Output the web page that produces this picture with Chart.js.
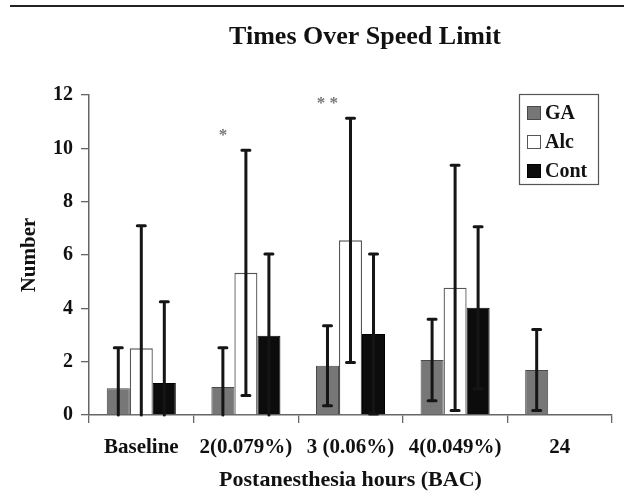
<!DOCTYPE html>
<html>
<head>
<meta charset="utf-8">
<script src="https://cdn.jsdelivr.net/npm/chart.js@4.4.1/dist/chart.umd.min.js"></script>
<style>
  html, body { margin: 0; padding: 0; background: #fff; }
  #wrap { position: relative; width: 624px; height: 497px; }
  #rule { position: absolute; left: 10px; top: 5px; width: 614px; height: 2px; background: #222; }
  canvas { position: absolute; left: 0; top: 0; }
</style>
</head>
<body>
<div id="wrap">
  <canvas id="c" width="624" height="497"></canvas>
  <div id="rule"></div>
</div>
<script>
// ---- data ----
const chartTitle = 'Times Over Speed Limit';
const categories = ['Baseline', '2(0.079%)', '3 (0.06%)', '4(0.049%)', '24'];
const seriesNames = ['GA', 'Alc', 'Cont'];
const gaMean   = [1.0, 1.05, 1.85, 2.06, 1.69];
const gaSD     = [1.52, 1.47, 1.50, 1.53, 1.52];
const alcMean  = [2.5, 5.33, 6.55, 4.77, null];
const alcSD    = [4.6, 4.6, 4.58, 4.6, null];
const contMean = [1.2, 2.97, 3.04, 4.02, null];
const contSD   = [3.05, 3.07, 3.0, 3.04, null];
const sigMarks = ['', '*', '**', '', ''];
const yTicks   = [0, 2, 4, 6, 8, 10, 12];

const FONT = "'Liberation Serif', 'Times New Roman', serif";

const titleText = {
  id: 'titleText',
  afterDraw(chart) {
    const ctx = chart.ctx;
    ctx.save();
    ctx.fillStyle = '#111';
    ctx.font = 'bold 26px ' + FONT;
    ctx.textAlign = 'center';
    ctx.textBaseline = 'alphabetic';
    ctx.fillText(chartTitle, 365, 44);
    ctx.restore();
  }
};

const errorBars = {
  id: 'errorBars',
  afterDatasetsDraw(chart) {
    const ctx = chart.ctx;
    const y = chart.scales.y;
    const sds = [gaSD, alcSD, contSD];
    ctx.save();
    ctx.strokeStyle = '#151515';
    ctx.lineWidth = 3;
    ctx.lineCap = 'round';
    chart.data.datasets.forEach((ds, di) => {
      const meta = chart.getDatasetMeta(di);
      meta.data.forEach((bar, i) => {
        const m = ds.data[i];
        const sd = sds[di][i];
        if (m == null || sd == null) return;
        const x = bar.x;
        const hi = m + sd;
        const lo = Math.max(0, m - sd);
        const yHi = y.getPixelForValue(hi);
        const yLo = y.getPixelForValue(lo);
        ctx.beginPath();
        ctx.moveTo(x, yHi);
        ctx.lineTo(x, yLo);
        ctx.moveTo(x - 4, yHi);
        ctx.lineTo(x + 4, yHi);
        if (lo > 0) {
          ctx.moveTo(x - 4, yLo);
          ctx.lineTo(x + 4, yLo);
        }
        ctx.stroke();
      });
    });
    // significance marks above GA bars
    ctx.fillStyle = '#777';
    ctx.font = 'bold 17px ' + FONT;
    ctx.textAlign = 'center';
    ctx.textBaseline = 'middle';
    const gaMeta = chart.getDatasetMeta(0);
    sigMarks.forEach((s, i) => {
      if (!s) return;
      let top = 0;
      [[gaMean, gaSD], [alcMean, alcSD], [contMean, contSD]].forEach(([mm, ss]) => {
        if (mm[i] != null) top = Math.max(top, mm[i] + ss[i]);
      });
      const py = y.getPixelForValue(top) - 15;
      ctx.fillText(s.split('').join(' '), gaMeta.data[i].x, py);
    });
    ctx.restore();
  }
};

const boxLegend = {
  id: 'boxLegend',
  afterDraw(chart) {
    const ctx = chart.ctx;
    const ca = chart.chartArea;
    const bx = ca.right - 93, by = ca.top - 1, bw = 79, bh = 90;
    ctx.save();
    ctx.strokeStyle = '#555';
    ctx.lineWidth = 1.2;
    ctx.strokeRect(bx + 0.5, by + 0.5, bw, bh);
    ctx.font = 'bold 20px ' + FONT;
    ctx.textBaseline = 'middle';
    ctx.textAlign = 'left';
    chart.data.datasets.forEach((ds, i) => {
      const cy = by + 19 + i * 29;
      ctx.fillStyle = ds.backgroundColor;
      ctx.fillRect(bx + 8, cy - 7, 14, 14);
      ctx.strokeStyle = ds.borderColor;
      ctx.lineWidth = 1;
      ctx.strokeRect(bx + 8.5, cy - 6.5, 13, 13);
      ctx.fillStyle = '#111';
      ctx.fillText(ds.label, bx + 26, cy + 1);
    });
    ctx.restore();
  }
};

new Chart(document.getElementById('c'), {
  type: 'bar',
  data: {
    labels: categories,
    datasets: [
      { label: seriesNames[0], data: gaMean, backgroundColor: '#777777', borderColor: '#4a4a4a', borderWidth: 1 },
      { label: seriesNames[1], data: alcMean, backgroundColor: '#ffffff', borderColor: '#555555', borderWidth: 1.3 },
      { label: seriesNames[2], data: contMean, backgroundColor: '#0c0c0c', borderColor: '#000000', borderWidth: 1 }
    ]
  },
  options: {
    responsive: false,
    animation: false,
    devicePixelRatio: 1,
    layout: { padding: { left: 0, right: 12, top: 95, bottom: 0 } },
    datasets: { bar: { categoryPercentage: 0.66, barPercentage: 1.0 } },
    plugins: {
      legend: { display: false },
      tooltip: { enabled: false },
      title: { display: false }
    },
    scales: {
      x: {
        grid: { offset: true, drawOnChartArea: false, drawTicks: true, tickLength: 8, color: '#666', lineWidth: 1.3 },
        border: { display: true, color: '#666', width: 1.5 },
        ticks: { color: '#111', padding: 12, maxRotation: 0, autoSkip: false,
                 font: { family: FONT, size: 21, weight: 'bold' } },
        title: { display: true, text: 'Postanesthesia hours (BAC)', color: '#111',
                 font: { family: FONT, size: 22, weight: 'bold' }, padding: { top: 0, bottom: 3 } },
        afterFit(s) { s.height = 82; }
      },
      y: {
        min: 0, max: 12,
        afterBuildTicks(s) { s.ticks = yTicks.map(v => ({ value: v })); },
        grid: { drawOnChartArea: false, drawTicks: true, tickLength: 8, color: '#666', lineWidth: 1.3 },
        border: { display: true, color: '#666', width: 1.5 },
        ticks: { color: '#111', padding: 8, font: { family: FONT, size: 20, weight: 'bold' } },
        title: { display: true, text: 'Number', color: '#111',
                 font: { family: FONT, size: 21, weight: 'bold' }, padding: { top: 17, bottom: 0 } },
        afterFit(s) { s.width = 89; }
      }
    }
  },
  plugins: [errorBars, boxLegend, titleText]
});
</script>
</body>
</html>
